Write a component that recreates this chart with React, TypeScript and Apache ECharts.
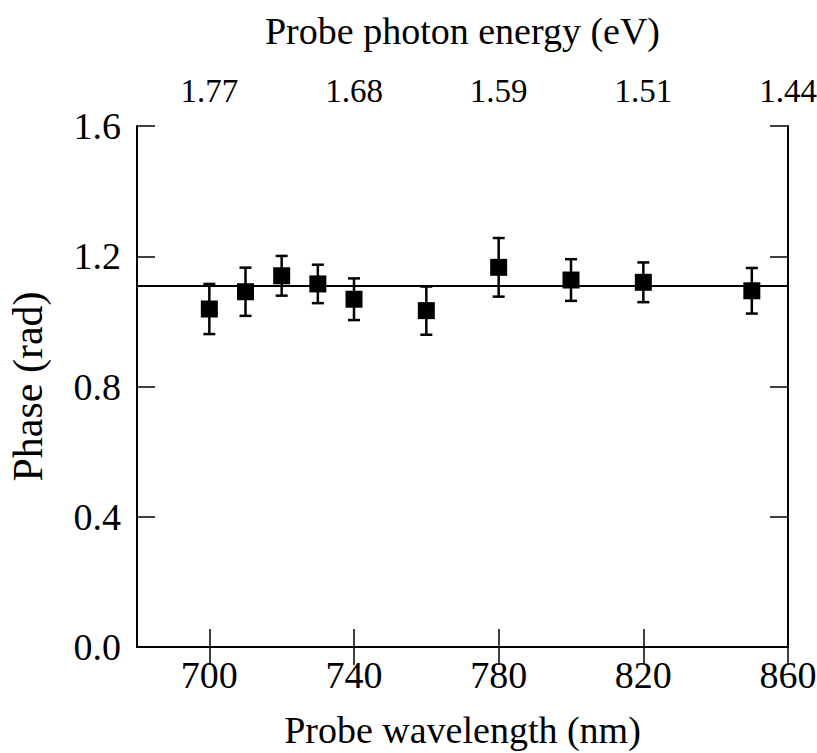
import React, { useEffect, useRef } from "react";
import * as echarts from "echarts";

const wavelengths = [700, 710, 720, 730, 740, 760, 780, 800, 820, 850];
const phases = [1.038, 1.091, 1.14, 1.115, 1.068, 1.033, 1.166, 1.127, 1.12, 1.094];
const errors = [0.077, 0.074, 0.061, 0.059, 0.064, 0.074, 0.09, 0.064, 0.061, 0.07];
const fitPhase = 1.115;
const wavelengthTicks = [700, 740, 780, 820, 860];
const energyLabels = ["1.77", "1.68", "1.59", "1.51", "1.44"];
const phaseTicks = [0, 0.4, 0.8, 1.2, 1.6];

const FONT = "'Liberation Serif', 'Times New Roman', serif";

export default function App() {
  const ref = useRef<HTMLDivElement>(null);
  useEffect(() => {
    document.body.style.margin = "0";
    document.body.style.background = "#fff";
    const chart = echarts.init(ref.current!, null, { renderer: "svg" });
    const axisLine = { show: true, lineStyle: { color: "#000", width: 2 } };
    const tick = { show: true, inside: true, length: 18, lineStyle: { color: "#000", width: 1.5 } };
    chart.setOption({
      animation: false,
      backgroundColor: "#fff",
      textStyle: { fontFamily: FONT },
      grid: { left: 137, right: 29, top: 126, bottom: 106, outerBoundsMode: "none", containLabel: false },
      xAxis: [
        {
          type: "value",
          position: "bottom",
          min: 680,
          max: 860,
          name: "Probe wavelength (nm)",
          nameLocation: "middle",
          nameGap: 64,
          nameTextStyle: { fontFamily: FONT, fontSize: 38, color: "#000" },
          axisLine,
          axisTick: { ...tick, customValues: wavelengthTicks },
          axisLabel: {
            customValues: wavelengthTicks,
            fontFamily: FONT,
            fontSize: 38,
            color: "#000",
            margin: 9,
            formatter: (v: number) => String(v),
          },
          splitLine: { show: false },
        },
        {
          type: "value",
          position: "top",
          min: 680,
          max: 860,
          name: "Probe photon energy (eV)",
          nameLocation: "middle",
          nameGap: 76,
          nameTextStyle: { fontFamily: FONT, fontSize: 38, color: "#000" },
          axisLine,
          axisTick: { ...tick, customValues: wavelengthTicks },
          axisLabel: {
            customValues: wavelengthTicks,
            fontFamily: FONT,
            fontSize: 33,
            color: "#000",
            margin: 19,
            formatter: (v: number) => {
              const i = wavelengthTicks.indexOf(v);
              return i >= 0 ? energyLabels[i] : "";
            },
          },
          splitLine: { show: false },
        },
      ],
      yAxis: [
        {
          type: "value",
          position: "left",
          min: 0,
          max: 1.6,
          interval: 0.4,
          name: "Phase (rad)",
          nameLocation: "middle",
          nameGap: 88,
          nameTextStyle: { fontFamily: FONT, fontSize: 42, color: "#000" },
          axisLine,
          axisTick: { ...tick, customValues: phaseTicks },
          axisLabel: {
            customValues: phaseTicks,
            fontFamily: FONT,
            fontSize: 38,
            color: "#000",
            margin: 16,
            formatter: (v: number) => v.toFixed(1),
          },
          splitLine: { show: false },
        },
        {
          type: "value",
          position: "right",
          min: 0,
          max: 1.6,
          interval: 0.4,
          axisLine,
          axisTick: { ...tick, customValues: phaseTicks },
          axisLabel: { show: false },
          splitLine: { show: false },
        },
      ],
      series: [
        {
          type: "custom",
          xAxisIndex: 0,
          yAxisIndex: 0,
          data: wavelengths.map((w, i) => [w, phases[i] - errors[i], phases[i] + errors[i]]),
          encode: { x: 0, y: [1, 2] },
          renderItem: (params: any, api: any) => {
            const x = api.value(0);
            const lo = api.coord([x, api.value(1)]);
            const hi = api.coord([x, api.value(2)]);
            const hw = 6;
            const style = { stroke: "#000", lineWidth: 2.5 };
            return {
              type: "group",
              children: [
                { type: "line", shape: { x1: lo[0], y1: lo[1], x2: hi[0], y2: hi[1] }, style },
                { type: "line", shape: { x1: lo[0] - hw, y1: lo[1], x2: lo[0] + hw, y2: lo[1] }, style },
                { type: "line", shape: { x1: hi[0] - hw, y1: hi[1], x2: hi[0] + hw, y2: hi[1] }, style },
              ],
            };
          },
          z: 2,
        },
        {
          type: "scatter",
          xAxisIndex: 0,
          yAxisIndex: 0,
          symbol: "rect",
          symbolSize: 17,
          itemStyle: { color: "#000", opacity: 1 },
          data: wavelengths.map((w, i) => [w, phases[i]]),
          z: 3,
          markLine: {
            silent: true,
            symbol: "none",
            label: { show: false },
            lineStyle: { color: "#000", width: 2, type: "solid" },
            data: [{ yAxis: fitPhase }],
          },
        },
      ],
    });
    return () => chart.dispose();
  }, []);
  return <div ref={ref} style={{ width: 817, height: 753 }} />;
}
